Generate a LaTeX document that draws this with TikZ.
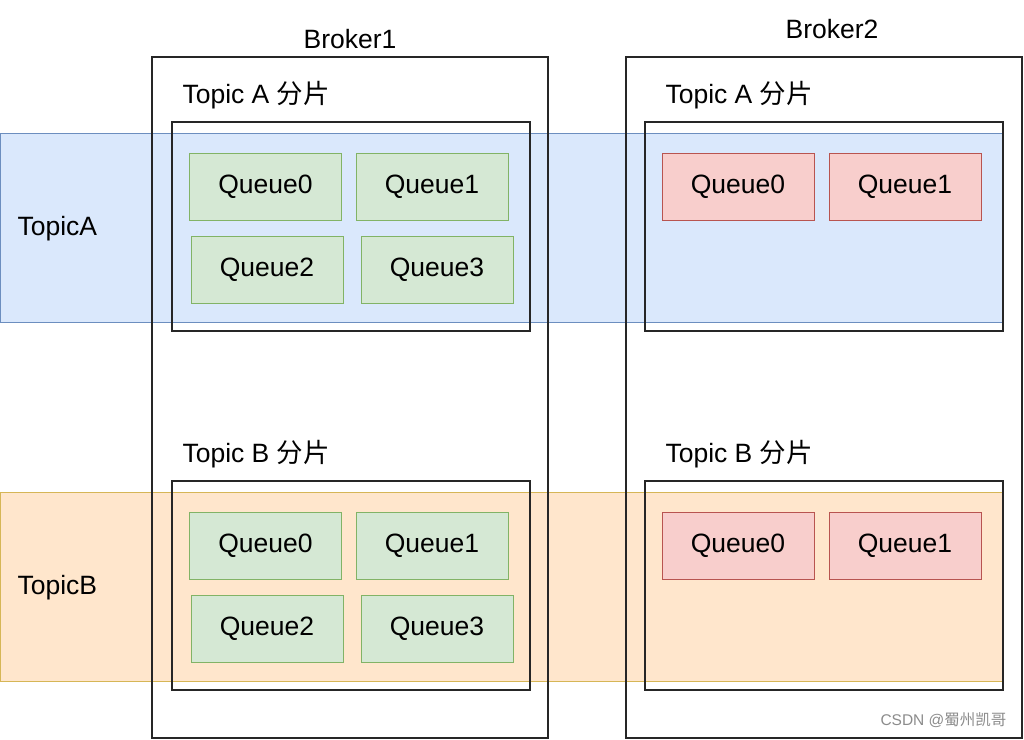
\documentclass[tikz,border=0pt]{standalone}
\usepackage{fontspec}
\setmainfont{Liberation Sans}
\newfontfamily\cjk{Noto Sans CJK SC}
\definecolor{bandblue}{HTML}{DAE8FC}
\definecolor{bandblueline}{HTML}{6C8EBF}
\definecolor{bandorange}{HTML}{FFE6CC}
\definecolor{bandorangeline}{HTML}{D6B656}
\definecolor{qgreen}{HTML}{D5E8D4}
\definecolor{qgreenline}{HTML}{82B366}
\definecolor{qred}{HTML}{F8CECC}
\definecolor{qredline}{HTML}{B85450}
\tikzset{
  big/.style={font=\fontsize{26.5}{31}\selectfont},
  broker/.style={draw=black!85, line width=1.3pt, minimum width=396pt, minimum height=681pt, inner sep=0pt},
  shard/.style={draw=black!85, line width=1.3pt, minimum width=358pt, minimum height=209pt, inner sep=0pt},
  band/.style={line width=1pt, minimum width=1003pt, minimum height=189pt, inner sep=0pt},
  queueok/.style={big, draw=qgreenline, fill=qgreen, line width=1pt, minimum width=152pt, minimum height=67pt, inner sep=0pt},
  queuebad/.style={big, draw=qredline, fill=qred, line width=1pt, minimum width=152pt, minimum height=67pt, inner sep=0pt}
}
\begin{document}
\begin{tikzpicture}[x=1pt, y=-1pt]
    \useasboundingbox[fill=white] (0,0) rectangle (1024,739);

    % Topic bands
    \node[band, draw=bandblueline, fill=bandblue] (bandA) at (501.5,227.5) {};
    \node[band, draw=bandorangeline, fill=bandorange] (bandB) at (501.5,587) {};
    \node[big, anchor=west] (topicA) at (14,229) {TopicA};
    \node[big, anchor=west] (topicB) at (14,588) {TopicB};

    % Brokers
    \node[broker] (broker1) at (350,397.5) {};
    \node[broker] (broker2) at (824,397.5) {};
    \node[big] (broker1lbl) at (350,39) {Broker1};
    \node[big] (broker2lbl) at (832,29) {Broker2};

    % Shards
    \node[shard] (shardA1) at (351,226.5) {};
    \node[shard] (shardB1) at (351,585.5) {};
    \node[shard] (shardA2) at (824,226.5) {};
    \node[shard] (shardB2) at (824,585.5) {};
    \node[big, anchor=west] (shardA1lbl) at (179,95) {Topic A {\cjk 分片}};
    \node[big, anchor=west] (shardB1lbl) at (179,454) {Topic B {\cjk 分片}};
    \node[big, anchor=west] (shardA2lbl) at (662,95) {Topic A {\cjk 分片}};
    \node[big, anchor=west] (shardB2lbl) at (662,454) {Topic B {\cjk 分片}};

    % Queues on Broker1
    \foreach \t/\y in {A/0, B/359} {
        \node[queueok] (b1\t q0) at (265.5,186.5+\y) {Queue0};
        \node[queueok] (b1\t q1) at (432,186.5+\y) {Queue1};
        \node[queueok] (b1\t q2) at (267,269.5+\y) {Queue2};
        \node[queueok] (b1\t q3) at (437,269.5+\y) {Queue3};
    }

    % Queues on Broker2
    \foreach \t/\y in {A/0, B/359} {
        \node[queuebad] (b2\t q0) at (738,186.5+\y) {Queue0};
        \node[queuebad] (b2\t q1) at (905,186.5+\y) {Queue1};
    }

    \node[font=\fontsize{15.5}{18}\selectfont, text=black!45, anchor=east] (mark) at (1010,720) {CSDN @{\cjk 蜀州凯哥}};
\end{tikzpicture}
\end{document}
